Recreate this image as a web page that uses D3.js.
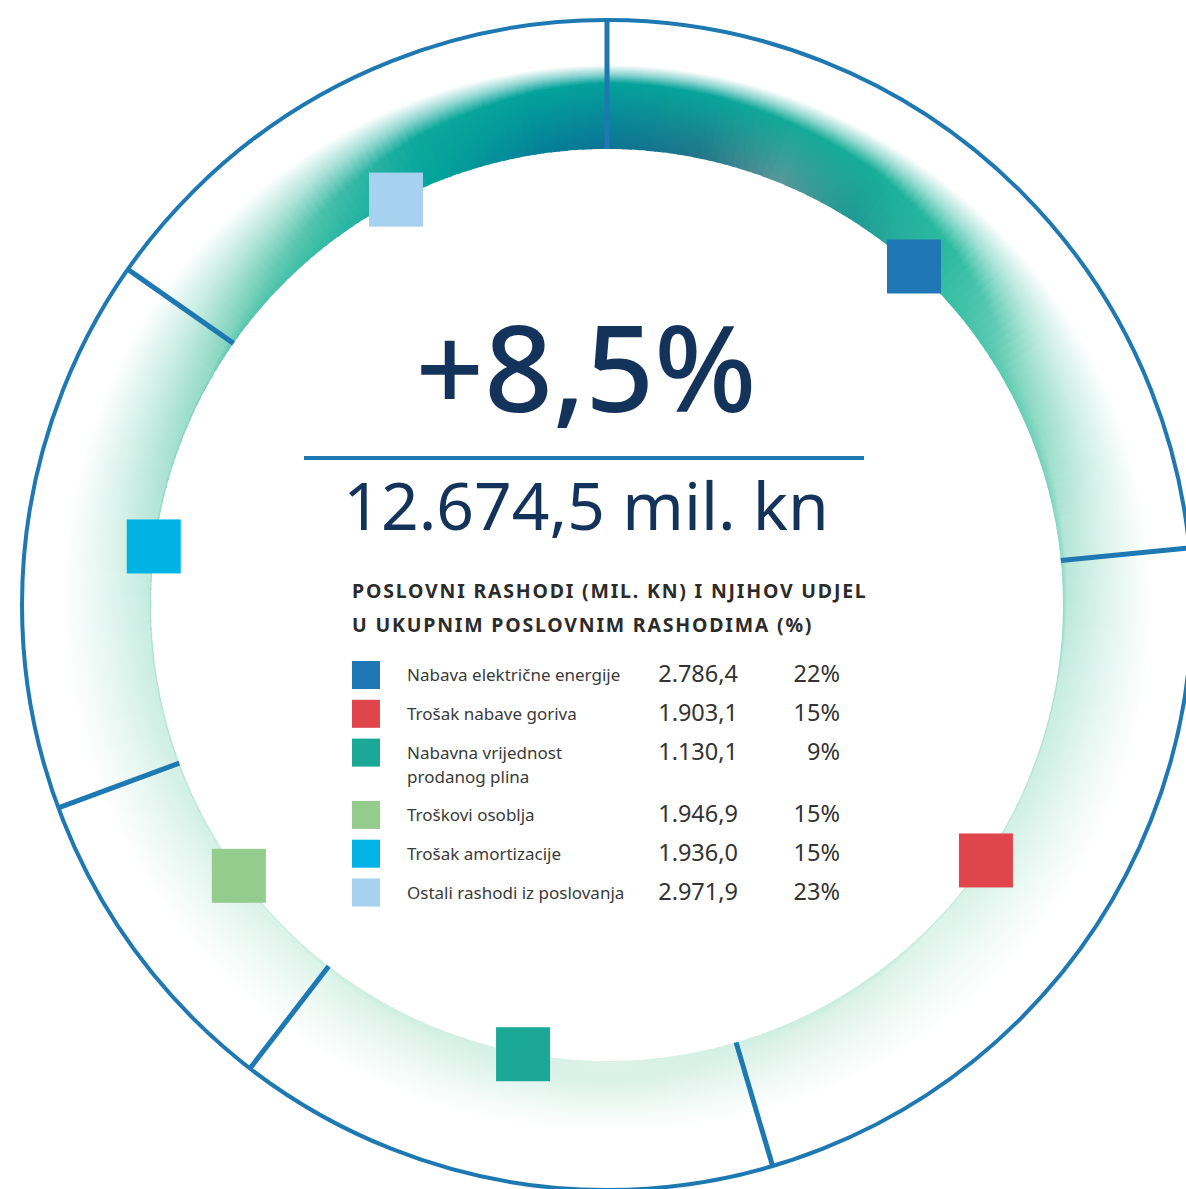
<!DOCTYPE html>
<html>
<head>
<meta charset="utf-8">
<script src="https://cdn.jsdelivr.net/npm/d3@7"></script>
<style>
  html, body { margin: 0; padding: 0; background: #fff; }
  svg { display: block; }
</style>
</head>
<body>
<div id="chart"></div>
<script>
// podaci
const categories = [
    "Nabava električne energije",
    "Trošak nabave goriva",
    "Nabavna vrijednost\nprodanog plina",
    "Troškovi osoblja",
    "Trošak amortizacije",
    "Ostali rashodi iz poslovanja"
];
const values = [2786.4, 1903.1, 1130.1, 1946.9, 1936.0, 2971.9];
const percents = [22, 15, 9, 15, 15, 23];
const colors = ["#1f78b4", "#e0454b", "#1ba897", "#93cc8c", "#00b3e5", "#a6d1ef"];
// redoslijed isječaka u prstenu (prvi isječak je "Ostali rashodi")
const ringOrder = [5, 0, 1, 2, 3, 4];
const changeText = "+8,5%";
const totalText = "12.674,5 mil. kn";
const titleLines = ["POSLOVNI RASHODI (MIL. KN) I NJIHOV UDJEL", "U UKUPNIM POSLOVNIM RASHODIMA (%)"];

const width = 1186, height = 1189;
const cx = 607, cy = 605;
const rIn = 456, rOut = 585, rBand = 560;
const navy = "#14335a";
const ringBlue = "#1e78b2";
const font = "'Noto Sans', 'Open Sans', sans-serif";

const hr = d3.formatLocale({ decimal: ",", thousands: ".", grouping: [3], currency: ["", ""] });
const fmt = hr.format(",.1f");

const svg = d3.select('#chart').append('svg')
    .attr('width', width)
    .attr('height', height)
    .style('background', '#fff');

const defs = svg.append('defs');
const ring = svg.append('g').attr('transform', `translate(${cx},${cy})`);

// izgled pojasa po kutu: [kut, boja uz rub, boja sredina, početak blijeđenja, kraj]
// boje su već pomiješane s bijelom pozadinom, pa su klinovi neprozirni (nema šavova)
const bandAnchors = [
    [0,   '#0a7395', '#04a19b', 522, 540],
    [12,  '#237488', '#08a59a', 520, 540],
    [22,  '#5a9798', '#12aa98', 515, 540],
    [32,  '#1f9894', '#17ae99', 510, 540],
    [45,  '#2ebba1', '#2fbca2', 495, 542],
    [60,  '#5ccab0', '#80d6c0', 470, 545],
    [80,  '#86d6c0', '#b2e5d5', 462, 545],
    [100, '#9cdcc8', '#c6ece0', 458, 545],
    [135, '#c0e9da', '#dcf3ea', 458, 540],
    [180, '#dcf2e9', '#d9f1e7', 476, 525],
    [225, '#c6ebdd', '#dcf3ea', 458, 535],
    [270, '#9cdcc8', '#c6ece0', 458, 545],
    [300, '#6acdb4', '#92dac5', 458, 545],
    [320, '#36bda4', '#5ec8b0', 480, 542],
    [338, '#03a49c', '#0ca89b', 505, 540],
    [352, '#057f98', '#03a29b', 518, 540],
    [360, '#0a7395', '#04a19b', 522, 540]
];

function bandStyle(a) {
    let k = 0;
    while (k < bandAnchors.length - 2 && bandAnchors[k + 1][0] <= a) k++;
    const p = bandAnchors[k], q = bandAnchors[k + 1];
    const t = (a - p[0]) / (q[0] - p[0]);
    return {
        cIn: d3.interpolateRgb(p[1], q[1])(t),
        cMid: d3.interpolateRgb(p[2], q[2])(t),
        rP: p[3] + (q[3] - p[3]) * t,
        rE: p[4] + (q[4] - p[4]) * t
    };
}

const wedgeArc = d3.arc().innerRadius(rIn).outerRadius(rBand);
const steps = 360;
const eps = 0.002;
const bandGroup = ring.append('g').attr('class', 'band');
d3.range(steps).forEach(i => {
    const a0 = i * 360 / steps, a1 = (i + 1) * 360 / steps;
    const s = bandStyle((a0 + a1) / 2);
    const grad = defs.append('radialGradient')
        .attr('id', 'band' + i)
        .attr('gradientUnits', 'userSpaceOnUse')
        .attr('cx', 0).attr('cy', 0).attr('r', rBand);
    grad.append('stop').attr('offset', rIn / rBand).attr('stop-color', s.cIn);
    grad.append('stop').attr('offset', Math.max(rIn, s.rP) / rBand).attr('stop-color', s.cMid);
    grad.append('stop').attr('offset', ((s.rP + s.rE) / 2) / rBand)
        .attr('stop-color', d3.interpolateRgb(s.cMid, '#fff')(0.55));
    grad.append('stop').attr('offset', s.rE / rBand).attr('stop-color', '#fff');
    bandGroup.append('path')
        .attr('d', wedgeArc({ startAngle: a0 * Math.PI / 180 - eps, endAngle: a1 * Math.PI / 180 + eps }))
        .attr('fill', `url(#band${i})`);
});

// isječci prstena
const pie = d3.pie().sort(null).value(d => d.value);
const slices = pie(ringOrder.map(idx => ({ idx, value: values[idx] })));

// razdjelnice
ring.append('g').selectAll('line')
    .data(slices)
    .join('line')
    .attr('x1', d => rIn * Math.sin(d.startAngle))
    .attr('y1', d => -rIn * Math.cos(d.startAngle))
    .attr('x2', d => rOut * Math.sin(d.startAngle))
    .attr('y2', d => -rOut * Math.cos(d.startAngle))
    .attr('stroke', ringBlue)
    .attr('stroke-width', 5);

// vanjski krug
ring.append('circle')
    .attr('r', rOut)
    .attr('fill', 'none')
    .attr('stroke', ringBlue)
    .attr('stroke-width', 4);

// kvadratići u isječcima
const sq = 54;
const markArc = d3.arc().innerRadius(rIn + 1).outerRadius(rIn + 1);
ring.append('g').selectAll('rect')
    .data(slices)
    .join('rect')
    .attr('x', d => markArc.centroid(d)[0] - sq / 2)
    .attr('y', d => markArc.centroid(d)[1] - sq / 2)
    .attr('width', sq)
    .attr('height', sq)
    .attr('fill', (d, i) => colors[i]);

// središnji tekst
const textX = 586;
svg.append('text')
    .attr('x', textX)
    .attr('y', 412)
    .attr('text-anchor', 'middle')
    .style('font-family', font)
    .style('font-size', '120px')
    .style('font-weight', 500)
    .attr('fill', navy)
    .text(changeText);

svg.append('line')
    .attr('x1', 304)
    .attr('x2', 864)
    .attr('y1', 458)
    .attr('y2', 458)
    .attr('stroke', ringBlue)
    .attr('stroke-width', 4);

svg.append('text')
    .attr('x', textX)
    .attr('y', 530)
    .attr('text-anchor', 'middle')
    .style('font-family', font)
    .style('font-size', '66px')
    .attr('fill', navy)
    .text(totalText);

// naslov tablice
svg.append('g').selectAll('text')
    .data(titleLines)
    .join('text')
    .attr('x', 352)
    .attr('y', (d, i) => 598 + i * 34)
    .style('font-family', font)
    .style('font-size', '19.5px')
    .style('font-weight', 'bold')
    .style('letter-spacing', '1.8px')
    .attr('fill', '#2b2b2b')
    .text(d => d);

// legenda
const rows = [];
let rowTop = 661;
categories.forEach((c, i) => {
    const lines = c.split('\n');
    rows.push({ i, lines, top: rowTop });
    rowTop += 38.8 + (lines.length - 1) * 23.5;
});

const legend = svg.append('g').attr('class', 'legend');
const row = legend.selectAll('g')
    .data(rows)
    .join('g')
    .attr('transform', d => `translate(0,${d.top})`);

row.append('rect')
    .attr('x', 352)
    .attr('width', 28)
    .attr('height', 28)
    .attr('fill', d => colors[d.i]);

row.append('text')
    .attr('x', 407)
    .attr('y', 20)
    .style('font-family', font)
    .style('font-size', '17px')
    .attr('fill', '#3a3a3a')
    .selectAll('tspan')
    .data(d => d.lines)
    .join('tspan')
    .attr('x', 407)
    .attr('dy', (d, j) => j === 0 ? 0 : 24)
    .text(d => d);

row.append('text')
    .attr('x', 738)
    .attr('y', 21)
    .attr('text-anchor', 'end')
    .style('font-family', font)
    .style('font-size', '23.5px')
    .attr('fill', '#333')
    .text(d => fmt(values[d.i]));

row.append('text')
    .attr('x', 840)
    .attr('y', 21)
    .attr('text-anchor', 'end')
    .style('font-family', font)
    .style('font-size', '23.5px')
    .attr('fill', '#333')
    .text(d => percents[d.i] + '%');
</script>
</body>
</html>
